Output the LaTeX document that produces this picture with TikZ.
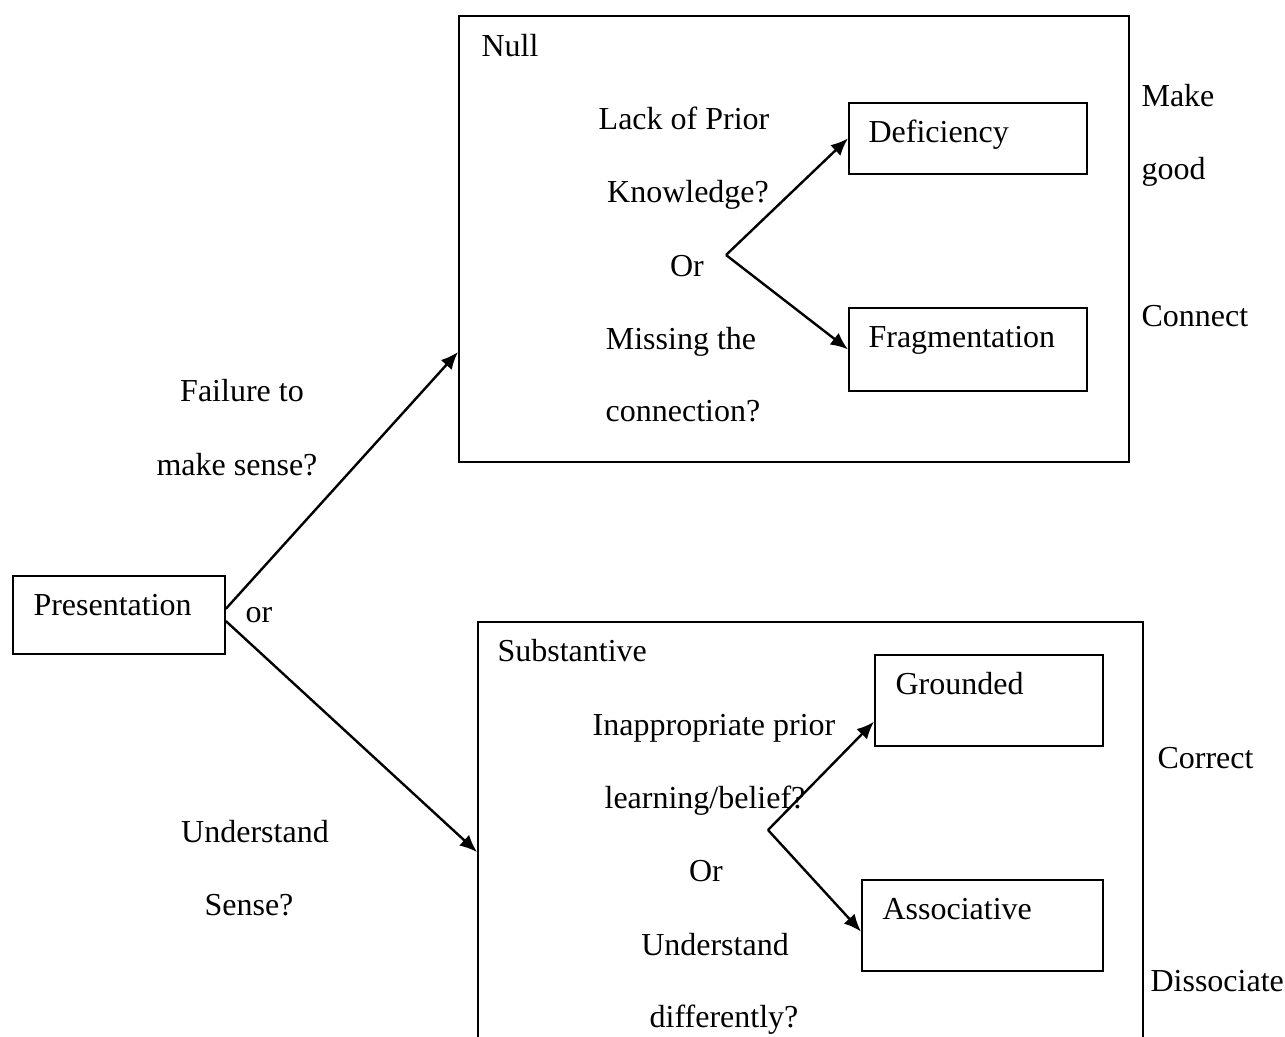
\documentclass[tikz,border=0pt]{standalone}
\usepackage{fontspec}
\setmainfont{Liberation Serif}
\usetikzlibrary{arrows.meta}
\usetikzlibrary{calc}

\begin{document}
\begin{tikzpicture}[x=0.375pt,y=-0.375pt,
    >={Latex[length=6.5pt,width=5.5pt]},
    box/.style={draw,line width=0.7pt,anchor=north west,inner sep=0},
    txt/.style={inner sep=0,anchor=base,font=\fontsize{12}{14}\selectfont},
    ltxt/.style={txt,anchor=base west},
    link/.style={->,line width=0.9pt}]
    \useasboundingbox (0,0) rectangle (1285,1036);

    % boxes
    \node[box,minimum width=79.5pt,minimum height=29.25pt] (pres) at (12,575) {};
    \node[box,minimum width=251.25pt,minimum height=167.25pt] (nullbox) at (458,15) {};
    \node[box,minimum width=89.25pt,minimum height=26.6pt] (def) at (848,102) {};
    \node[box,minimum width=89.25pt,minimum height=31.1pt] (frag) at (848,307) {};
    \node[box,minimum width=249.4pt,minimum height=162pt] (subbox) at (477,621) {};
    \node[box,minimum width=85.5pt,minimum height=34.1pt] (gro) at (874,654) {};
    \node[box,minimum width=90.4pt,minimum height=34.1pt] (ass) at (861,879) {};

    % texts in boxes
    \node[ltxt] (prestxt) at (33,615) {Presentation};
    \node[ltxt] (nulltxt) at (481,56) {Null};
    \node[ltxt] (deftxt) at (868,142) {Deficiency};
    \node[ltxt] (fragtxt) at (868,347) {Fragmentation};
    \node[ltxt] (subtxt) at (497,661) {Substantive};
    \node[ltxt] (grotxt) at (895,694) {Grounded};
    \node[ltxt] (asstxt) at (882,919) {Associative};

    % questions
    \node[txt] (q1a) at (684,129) {Lack of Prior};
    \node[txt] (q1b) at (688,202) {Knowledge?};
    \node[txt] (q1c) at (687,276) {Or};
    \node[txt] (q1d) at (681,349) {Missing the};
    \node[txt] (q1e) at (683,421) {connection?};
    \node[txt] (q2a) at (714,735) {Inappropriate prior};
    \node[txt] (q2b) at (705,808) {learning/belief?};
    \node[txt] (q2c) at (706,881) {Or};
    \node[txt] (q2d) at (715,955) {Understand};
    \node[txt] (q2e) at (724,1027) {differently?};

    \node[txt] (fa) at (242,401) {Failure to};
    \node[txt] (fb) at (237,475) {make sense?};
    \node[txt] (ua) at (255,842) {Understand};
    \node[txt] (ub) at (249,915) {Sense?};
    \node[ltxt] (ortxt) at (245,622) {or};

    % remedies
    \node[ltxt] (mk) at (1141,106) {Make};
    \node[ltxt] (gd) at (1141,179) {good};
    \node[ltxt] (cn) at (1141,326) {Connect};
    \node[ltxt] (cr) at (1157,768) {Correct};
    \node[ltxt] (ds) at (1150,991) {Dissociate};

    % connectors
    \coordinate (nullin) at (458,352);
    \coordinate (subin) at (477,852);
    \coordinate (fork1) at (726,255);
    \coordinate (fork2) at (768,830);
    \draw[link] ([yshift=2.3pt]pres.east) -- (nullin);
    \draw[link] ([yshift=-2.3pt]pres.east) -- (subin);
    \draw[link] (fork1) -- (def.west);
    \draw[link] (fork1) -- (frag.west);
    \draw[link] (fork2) -- ([yshift=-8pt]gro.west);
    \draw[link] (fork2) -- ([yshift=-2.3pt]ass.west);
\end{tikzpicture}
\end{document}
